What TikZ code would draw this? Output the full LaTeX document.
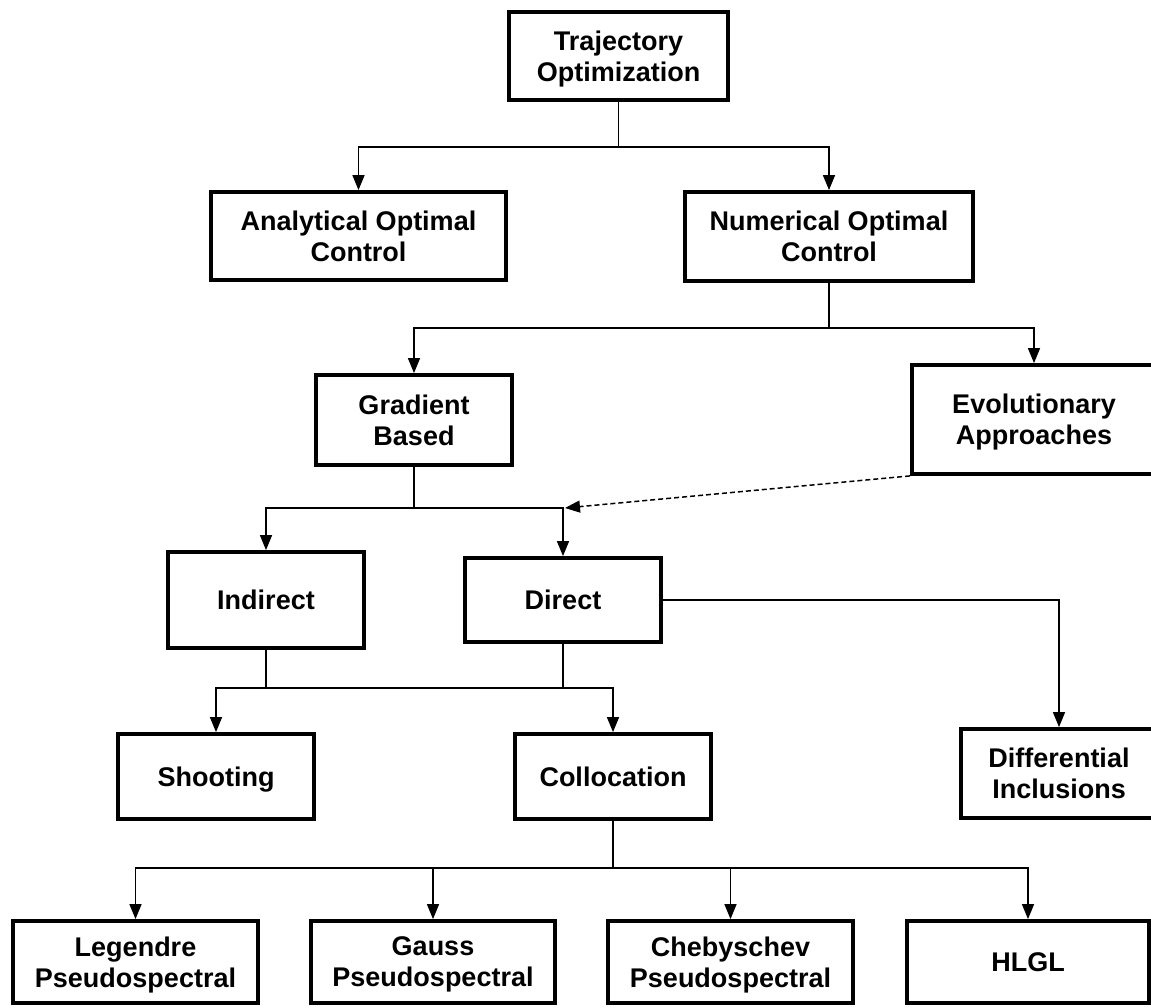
\documentclass[tikz,border=0pt]{standalone}
\usepackage{fontspec}
\setmainfont{Liberation Sans}
\usetikzlibrary{arrows.meta}

\begin{document}
\begin{tikzpicture}[x=1pt,y=-1pt,
  box/.style={draw, line width=3.8pt, fill=white, align=center,
    font=\fontsize{27}{31}\selectfont\bfseries, inner sep=0pt, text depth=0pt},
  conn/.style={line width=1.5pt},
  arr/.style={conn, -{Triangle[length=15pt,width=12pt]}},
  dasharr/.style={arr, dash pattern=on 5pt off 3pt}]

\fill[white] (0,0) rectangle (1151,1008);
\clip (0,0) rectangle (1151,1008);

% boxes (centre, outer size minus the border width)
\node[box, minimum width=219pt, minimum height=88pt] (traj) at (618.5,56) {Trajectory\\Optimization};
\node[box, minimum width=295pt, minimum height=88pt] (anal) at (358.5,236) {Analytical Optimal\\Control};
\node[box, minimum width=288pt, minimum height=89pt] (num) at (829,236.5) {Numerical Optimal\\Control};
\node[box, minimum width=196pt, minimum height=90pt] (grad) at (414,420) {Gradient\\Based};
\node[box, minimum width=244pt, minimum height=109pt] (evo) at (1034,419.5) {Evolutionary\\Approaches};
\node[box, minimum width=196pt, minimum height=96pt] (ind) at (266,600) {Indirect};
\node[box, minimum width=196pt, minimum height=84pt] (dir) at (563,600) {Direct};
\node[box, minimum width=196pt, minimum height=85pt] (shoot) at (216,776.5) {Shooting};
\node[box, minimum width=196pt, minimum height=85pt] (coll) at (613,776.5) {Collocation};
\node[box, minimum width=196pt, minimum height=89pt] (diff) at (1059,773.5) {Differential\\Inclusions};
\node[box, minimum width=245pt, minimum height=82pt] (leg) at (135.5,962) {Legendre\\Pseudospectral};
\node[box, minimum width=244pt, minimum height=82pt] (gauss) at (433,962) {Gauss\\Pseudospectral};
\node[box, minimum width=245pt, minimum height=82pt] (cheb) at (730.5,962) {Chebyschev\\Pseudospectral};
\node[box, minimum width=242pt, minimum height=82pt] (hlgl) at (1028,962) {HLGL};

% branch levels
\coordinate (r1) at (0,147);
\coordinate (r2) at (0,328);
\coordinate (r3) at (0,508);
\coordinate (r4) at (0,688);
\coordinate (r5) at (0,868);

% Trajectory Optimization
\draw[conn] (traj.south) -- (traj.south |- r1);
\draw[arr] (traj.south |- r1) -| (anal.north);
\draw[arr] (traj.south |- r1) -| (num.north);

% Numerical Optimal Control
\draw[conn] (num.south) -- (num.south |- r2);
\draw[arr] (num.south |- r2) -| (grad.north);
\draw[arr] (num.south |- r2) -| (evo.north);

% Gradient Based
\draw[conn] (grad.south) -- (grad.south |- r3);
\draw[arr] (grad.south |- r3) -| (ind.north);
\draw[arr] (grad.south |- r3) -| (dir.north);

% Evolutionary Approaches feeding the direct branch
\coordinate (evojoin) at ([xshift=2pt]dir.north |- r3);
\draw[dasharr] (evo.south west) -- (evojoin);

% Indirect and Direct
\draw[conn] (ind.south) -- (ind.south |- r4);
\draw[conn] (dir.south) -- (dir.south |- r4);
\draw[conn] (ind.south |- r4) -- (dir.south |- r4);
\draw[arr] (ind.south |- r4) -| (shoot.north);
\draw[arr] (dir.south |- r4) -| (coll.north);
\draw[arr] (dir.east) -| (diff.north);

% Collocation
\draw[conn] (coll.south) -- (coll.south |- r5);
\draw[arr] (coll.south |- r5) -| (leg.north);
\draw[arr] (coll.south |- r5) -| (gauss.north);
\draw[arr] (coll.south |- r5) -| (cheb.north);
\draw[arr] (coll.south |- r5) -| (hlgl.north);
\end{tikzpicture}
\end{document}
